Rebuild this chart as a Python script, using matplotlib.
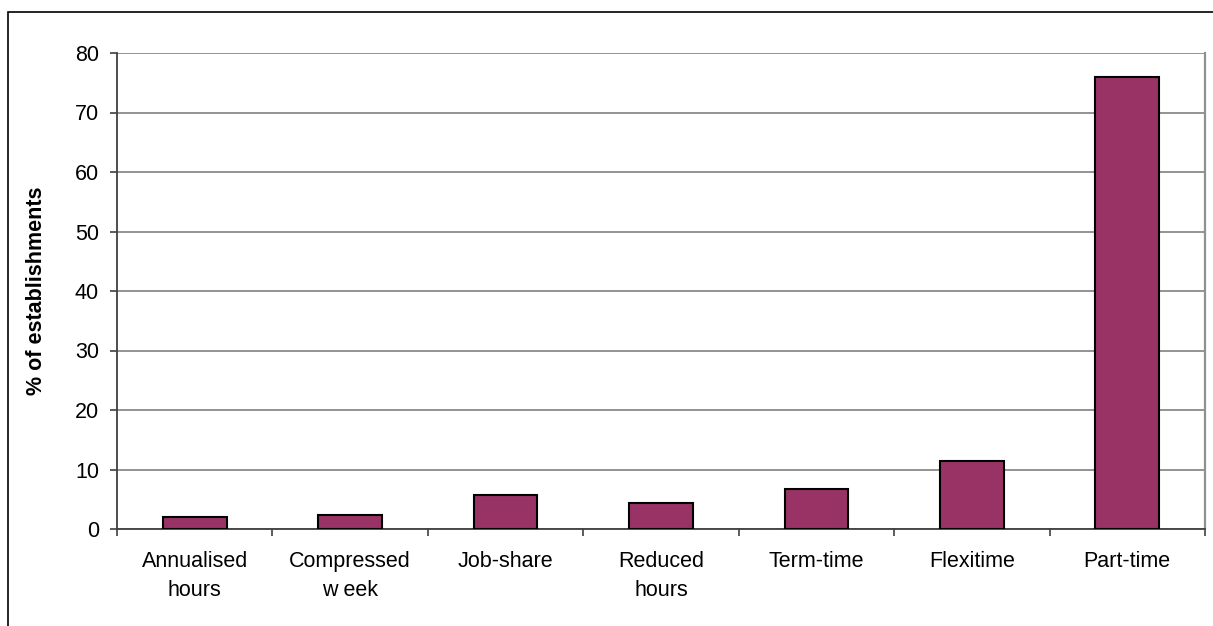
import matplotlib.pyplot as plt
from matplotlib.patches import Rectangle
import numpy as np

plt.rcParams['font.family'] = ['Liberation Sans', 'DejaVu Sans']

# data
categories = ['Annualised\nhours', 'Compressed\nw eek', 'Job-share', 'Reduced\nhours',
              'Term-time', 'Flexitime', 'Part-time']
values = [2.0, 2.4, 5.7, 4.4, 6.7, 11.4, 76.0]
y_ticks = [0, 10, 20, 30, 40, 50, 60, 70, 80]

W, H = 1213, 626
fig = plt.figure(figsize=(W / 100, H / 100), dpi=100)
ax = fig.add_axes([117 / W, 1 - 529 / H, (1205 - 117) / W, (529 - 53) / H])

x = np.arange(len(categories))
ax.bar(x, values, width=0.41, color='#993366', edgecolor='black', linewidth=1.5, zorder=3)

ax.set_xlim(-0.5, len(categories) - 0.5)
ax.set_ylim(0, 80)
ax.set_yticks(y_ticks)
ax.yaxis.grid(True, color='#808080', linewidth=1.2, zorder=0)

# ticks on category boundaries, labels at the centres
ax.set_xticks(np.arange(-0.5, len(categories), 1.0))
ax.set_xticklabels([])
ax.set_xticks(x, minor=True)
ax.set_xticklabels(categories, minor=True, fontsize=15.5, linespacing=1.48)
ax.tick_params(axis='x', which='major', length=5, width=1.2, color='#404040')
ax.tick_params(axis='x', which='minor', length=0, pad=16)
ax.tick_params(axis='y', length=5, width=1.2, color='#404040', labelsize=15.5, pad=8)

ax.set_ylabel('% of establishments', fontsize=15.5, fontweight='bold')
ax.yaxis.set_label_coords(-0.0643, 0.5)

for side in ['left', 'bottom']:
    ax.spines[side].set_color('#404040')
    ax.spines[side].set_linewidth(1.3)
ax.spines['top'].set_visible(False)
ax.spines['right'].set_color('#909090')
ax.spines['right'].set_linewidth(1.6)

# chart area frame
fig.patches.append(Rectangle((8 / W, -0.1), 2, 1 - 12 / H + 0.1, transform=fig.transFigure,
                             fill=False, edgecolor='black', linewidth=1.2))

fig.savefig('out.png', dpi=100)
